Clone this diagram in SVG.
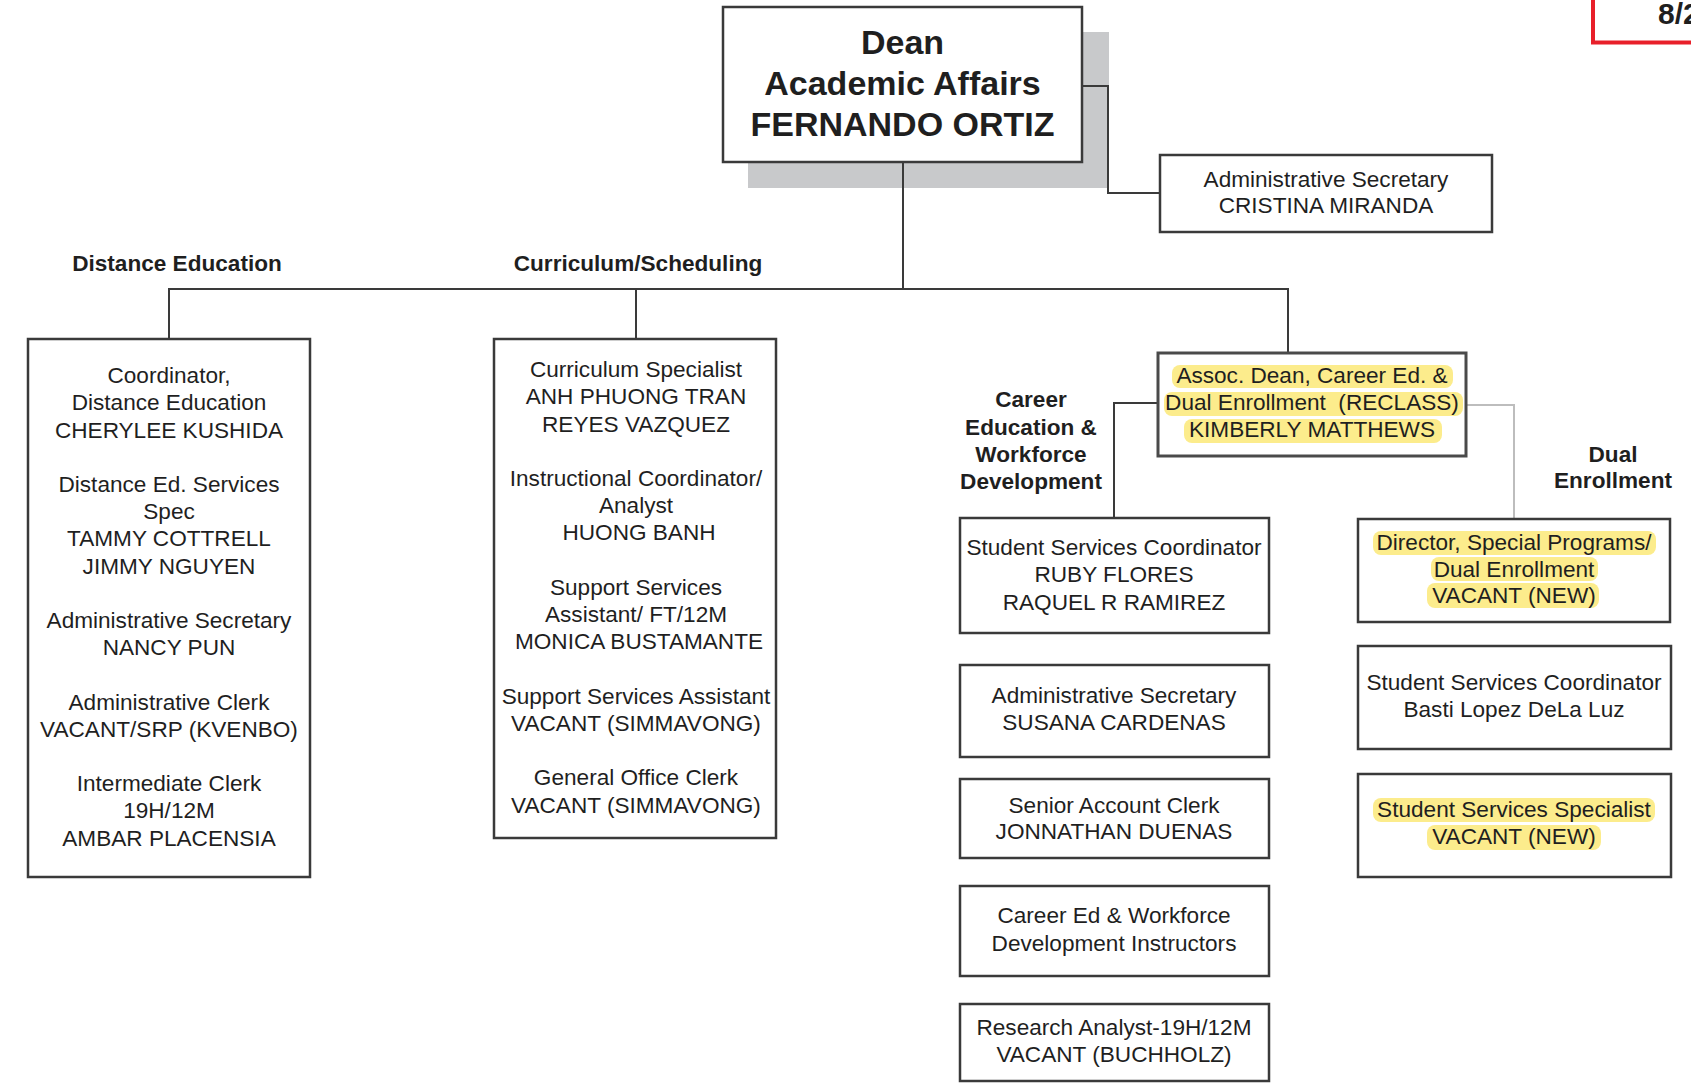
<svg xmlns="http://www.w3.org/2000/svg" width="1691" height="1088" viewBox="0 0 1691 1088">
<style>
.box{fill:#fff;stroke:#3a3a3a;stroke-width:2.5}
.t{font-family:"Liberation Sans",Arial,sans-serif;font-size:22.6px;fill:#1f1f1f;text-anchor:middle}
.b{font-weight:bold}
.hl{fill:#fcec8c}
.ln{fill:none;stroke:#3a3a3a;stroke-width:2}
.lg{fill:none;stroke:#bdbdbd;stroke-width:2}
</style>
<rect x="0" y="0" width="1691" height="1088" fill="#fff"/>

<g id="date-box">
<rect x="1593" y="-10" width="120" height="52.5" fill="none" stroke="#e8202a" stroke-width="4"/>
<text class="t b" x="1658" y="24" style="text-anchor:start;font-size:30px">8/2</text>
</g>

<g id="dean">
<rect x="748" y="32" width="361" height="156" fill="#c8c9cb"/>
<rect class="box" x="723" y="7" width="359" height="155"/>
<text class="t b" x="902.5" y="54" style="font-size:34px">Dean</text>
<text class="t b" x="902.5" y="95" style="font-size:34px">Academic Affairs</text>
<text class="t b" x="902.5" y="136" style="font-size:34px">FERNANDO ORTIZ</text>
</g>

<g id="connectors">
<polyline class="ln" points="903,162 903,289"/>
<polyline class="ln" points="169,339 169,289 1288,289 1288,353"/>
<polyline class="ln" points="636,289 636,339"/>
<polyline class="ln" points="1082,86 1108,86 1108,193 1160,193"/>
<polyline class="ln" points="1158,403 1114,403 1114,518"/>
<polyline class="lg" points="1466,405 1514,405 1514,519"/>
</g>

<g id="admin-secretary">
<rect class="box" x="1160" y="155" width="332" height="77"/>
<text class="t" x="1326" y="187">Administrative Secretary</text>
<text class="t" x="1326" y="213">CRISTINA MIRANDA</text>
</g>

<g id="label-distance">
<text class="t b" x="177" y="271">Distance Education</text>
</g>
<g id="label-curriculum">
<text class="t b" x="638" y="271">Curriculum/Scheduling</text>
</g>

<g id="distance-education">
<rect class="box" x="28" y="339" width="282" height="538"/>
<text class="t" x="169" y="383">Coordinator,</text>
<text class="t" x="169" y="410">Distance Education</text>
<text class="t" x="169" y="437.5">CHERYLEE KUSHIDA</text>
<text class="t" x="169" y="492">Distance Ed. Services</text>
<text class="t" x="169" y="519">Spec</text>
<text class="t" x="169" y="546">TAMMY COTTRELL</text>
<text class="t" x="169" y="573.5">JIMMY NGUYEN</text>
<text class="t" x="169" y="628">Administrative Secretary</text>
<text class="t" x="169" y="655">NANCY PUN</text>
<text class="t" x="169" y="709.5">Administrative Clerk</text>
<text class="t" x="169" y="736.5">VACANT/SRP (KVENBO)</text>
<text class="t" x="169" y="791">Intermediate Clerk</text>
<text class="t" x="169" y="818">19H/12M</text>
<text class="t" x="169" y="845.5">AMBAR PLACENSIA</text>
</g>

<g id="curriculum-scheduling">
<rect class="box" x="494" y="339" width="282" height="499"/>
<text class="t" x="636" y="377">Curriculum Specialist</text>
<text class="t" x="636" y="404">ANH PHUONG TRAN</text>
<text class="t" x="636" y="431.5">REYES VAZQUEZ</text>
<text class="t" x="636" y="486">Instructional Coordinator/</text>
<text class="t" x="636" y="513">Analyst</text>
<text class="t" x="639" y="540">HUONG BANH</text>
<text class="t" x="636" y="594.5">Support Services</text>
<text class="t" x="636" y="621.5">Assistant/ FT/12M</text>
<text class="t" x="639" y="649">MONICA BUSTAMANTE</text>
<text class="t" x="636" y="703.5">Support Services Assistant</text>
<text class="t" x="636" y="731">VACANT (SIMMAVONG)</text>
<text class="t" x="636" y="785">General Office Clerk</text>
<text class="t" x="636" y="812.5">VACANT (SIMMAVONG)</text>
</g>

<g id="label-career">
<text class="t b" x="1031" y="407">Career</text>
<text class="t b" x="1031" y="435">Education &amp;</text>
<text class="t b" x="1031" y="462">Workforce</text>
<text class="t b" x="1031" y="489">Development</text>
</g>

<g id="assoc-dean">
<rect class="hl" x="1172" y="365" width="281" height="23" rx="8"/>
<rect class="hl" x="1164" y="392" width="299" height="24" rx="8"/>
<rect class="hl" x="1184" y="419" width="258" height="24" rx="8"/>
<rect x="1158" y="353" width="308" height="103" fill="none" stroke="#4a4a4a" stroke-width="3"/>
<text class="t" x="1312" y="383">Assoc. Dean, Career Ed. &amp;</text>
<text class="t" x="1312" y="410" xml:space="preserve">Dual Enrollment  (RECLASS)</text>
<text class="t" x="1312" y="437">KIMBERLY MATTHEWS</text>
</g>

<g id="label-dual">
<text class="t b" x="1613" y="462">Dual</text>
<text class="t b" x="1613" y="488">Enrollment</text>
</g>

<g id="ss-coordinator-ce">
<rect class="box" x="960" y="518" width="309" height="115"/>
<text class="t" x="1114" y="555">Student Services Coordinator</text>
<text class="t" x="1114" y="582">RUBY FLORES</text>
<text class="t" x="1114" y="610">RAQUEL R RAMIREZ</text>
</g>

<g id="admin-secretary-ce">
<rect class="box" x="960" y="665" width="309" height="92"/>
<text class="t" x="1114" y="703">Administrative Secretary</text>
<text class="t" x="1114" y="730">SUSANA CARDENAS</text>
</g>

<g id="senior-account-clerk">
<rect class="box" x="960" y="779" width="309" height="79"/>
<text class="t" x="1114" y="813">Senior Account Clerk</text>
<text class="t" x="1114" y="839">JONNATHAN DUENAS</text>
</g>

<g id="instructors">
<rect class="box" x="960" y="886" width="309" height="90"/>
<text class="t" x="1114" y="923">Career Ed &amp; Workforce</text>
<text class="t" x="1114" y="951">Development Instructors</text>
</g>

<g id="research-analyst">
<rect class="box" x="960" y="1004" width="309" height="77"/>
<text class="t" x="1114" y="1035">Research Analyst-19H/12M</text>
<text class="t" x="1114" y="1062">VACANT (BUCHHOLZ)</text>
</g>

<g id="director-dual">
<rect class="box" x="1358" y="519" width="312" height="103"/>
<rect class="hl" x="1373" y="531" width="283" height="24" rx="8"/>
<rect class="hl" x="1431" y="557" width="167" height="24" rx="8"/>
<rect class="hl" x="1427" y="583" width="172" height="25" rx="8"/>
<text class="t" x="1514" y="550">Director, Special Programs/</text>
<text class="t" x="1514" y="577">Dual Enrollment</text>
<text class="t" x="1514" y="603">VACANT (NEW)</text>
</g>

<g id="ss-coordinator-dual">
<rect class="box" x="1358" y="646" width="313" height="103"/>
<text class="t" x="1514" y="690">Student Services Coordinator</text>
<text class="t" x="1514" y="717">Basti Lopez DeLa Luz</text>
</g>

<g id="ss-specialist">
<rect class="box" x="1358" y="774" width="313" height="103"/>
<rect class="hl" x="1373" y="798" width="282" height="24" rx="8"/>
<rect class="hl" x="1427" y="825" width="174" height="25" rx="8"/>
<text class="t" x="1514" y="817">Student Services Specialist</text>
<text class="t" x="1514" y="844">VACANT (NEW)</text>
</g>
</svg>
